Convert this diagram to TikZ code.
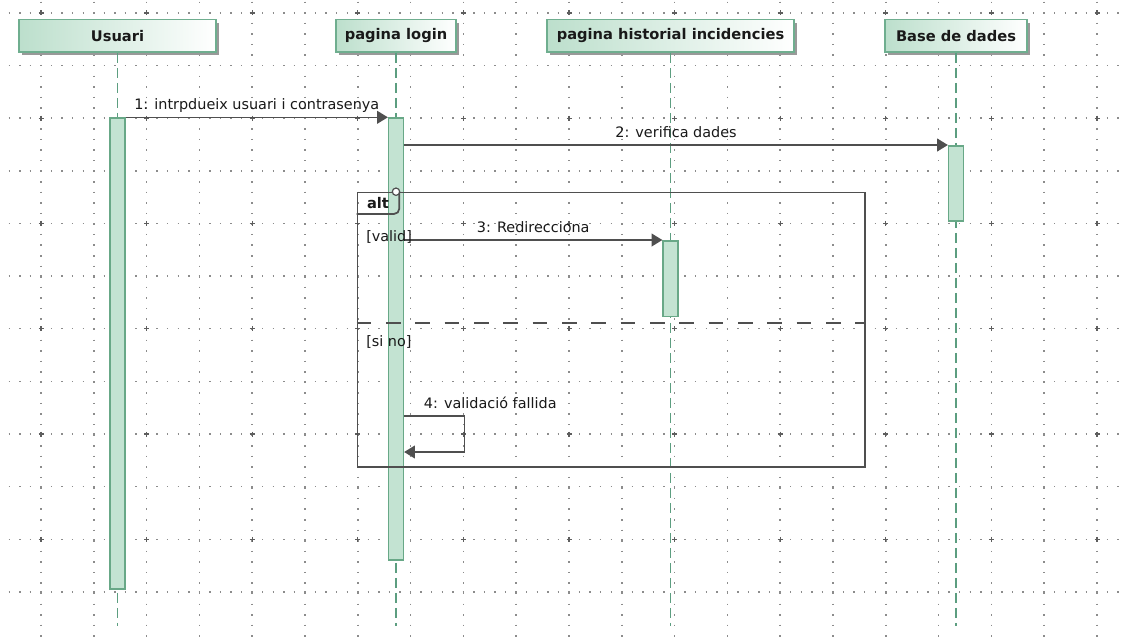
\documentclass[tikz,border=0pt]{standalone}
\usepackage{fontspec}
\setmainfont{DejaVu Sans}
\usetikzlibrary{arrows.meta,shadows}
\definecolor{hdrgreen}{HTML}{BCDFCC}
\definecolor{hdredge}{HTML}{6FAE8F}
\definecolor{actfill}{HTML}{C3E3D2}
\definecolor{actedge}{HTML}{68A887}
\definecolor{lifegreen}{HTML}{5C9E80}
\definecolor{msggray}{HTML}{4F4F4F}
\definecolor{griddot}{HTML}{8C8C8C}

\begin{document}
\begin{tikzpicture}[x=0.75pt,y=-0.75pt,>={Triangle[length=8pt,width=9.5pt]},
  every node/.style={font=\fontsize{10.8}{13}\selectfont,text=black!90},
  head/.style={draw=hdredge,line width=1.3pt,left color=hdrgreen,right color=white,
    minimum height=24.5pt,inner sep=0pt,font=\fontsize{11}{13}\selectfont\bfseries,
    drop shadow={shadow xshift=2.5pt,shadow yshift=-2.5pt,fill=black!40,opacity=1}},
  act/.style={draw=actedge,fill=actfill,line width=1.2pt,minimum width=11pt,inner sep=0pt,anchor=north},
  life/.style={draw=lifegreen,line width=1.2pt,dash pattern=on 7.5pt off 3.75pt},
  msg/.style={draw=msggray,line width=1.1pt,->},
  lbl/.style={anchor=base,yshift=6pt}]
  \fill[white] (0,0) rectangle (1124,643);
  \useasboundingbox (0,0) rectangle (1124,643);
  % dotted grid
  \foreach \i in {0,...,20}
   \draw[griddot,line width=1.1pt,dash pattern=on 1.1pt off 6.82pt] ({41+52.8*\i},1.6) -- ({41+52.8*\i},643);
  \foreach \j in {0,...,11}
   \draw[griddot,line width=1.1pt,dash pattern=on 1.1pt off 6.82pt] (-1.98,{12.9+52.64*\j}) -- (1124,{12.9+52.64*\j});
  \foreach \i in {0,...,10}
   \foreach \j in {0,...,5}
    \draw[griddot!140,line width=0.9pt] ({41+105.6*\i-2.5},{12.9+105.28*\j}) -- ++(5,0)
     ({41+105.6*\i},{12.9+105.28*\j-2.5}) -- ++(0,5);

  % objects
  \node[head,minimum width=147.75pt] (usuari) at (117.5,35.7) {Usuari};
  \node[head,minimum width=90pt] (login) at (396,35.7) {pagina login};
  \node[head,minimum width=185.25pt] (hist) at (670.5,35.7) {pagina historial incidencies};
  \node[head,minimum width=106.5pt] (bd) at (956,35.7) {Base de dades};
  \foreach \n in {usuari,login,hist,bd}
   \draw[life] (\n.south) -- (\n.south |- 0,626);

  % activations
  \node[act,minimum height=353.25pt] (actU) at (usuari.south |- 0,117.3) {};
  \node[act,minimum height=331.5pt] (actL) at (login.south |- 0,117.3) {};
  \node[act,minimum height=56.8pt] (actH) at (hist.south |- 0,240) {};
  \node[act,minimum height=56.25pt] (actB) at (bd.south |- 0,145) {};

  % messages
  \draw[msg] (actU.north east) -- (actL.north west)
   node[lbl,midway] {1: intrpdueix usuari i contrasenya};
  \draw[msg] (actL.east |- actB.north) -- (actB.north west)
   node[lbl,midway] {2: verifica dades};
  \draw[msg] (actL.east |- actH.north) -- (actH.north west)
   node[lbl,midway] {3: Redirecciona};
  \coordinate (selfA) at (actL.east |- 0,416);
  \coordinate (selfB) at (actL.east |- 0,452);
  \draw[msg] (selfA) node[anchor=base west,xshift=11pt,yshift=6pt] {4: validació fallida}
   -- ++(60.3,0) |- (selfB);

  % alt fragment
  \node[draw=msggray,line width=1.3pt,minimum width=380.5pt,minimum height=205.7pt,
   anchor=north west,inner sep=0pt] (altf) at (356.7,191.7) {};
  \draw[msggray,line width=1.3pt,rounded corners=4pt] (altf.north west) ++(0,22.3) -- ++(42.6,0) -- ++(0,-22.3);
  \node[font=\fontsize{11}{13}\selectfont\bfseries] (altlbl) at (378,203) {alt};
  \node[circle,draw=msggray,fill=white,line width=0.9pt,minimum size=5.5pt,inner sep=0pt]
   (altmark) at (actL.center |- altf.north) {};
  \node[anchor=west,inner sep=0pt] (gvalid) at (366,237) {[valid]};
  \node[anchor=west,inner sep=0pt] (gsino) at (366,342) {[si no]};
  \draw[msggray,line width=1.3pt,dash pattern=on 11pt off 11pt] (altf.west |- 0,322.7) -- (altf.east |- 0,322.7);
\end{tikzpicture}
\end{document}
